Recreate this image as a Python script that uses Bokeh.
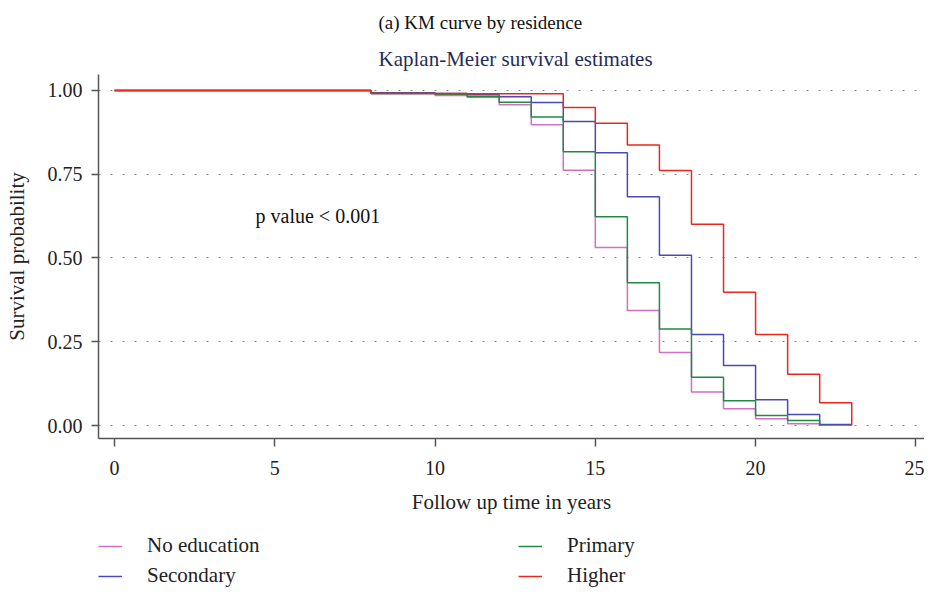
from bokeh.plotting import figure
from bokeh.layouts import column
from bokeh.models import FixedTicker, Label, Legend, LegendItem, Range1d, NumeralTickFormatter, Title
from bokeh.embed import file_html
from bokeh.resources import INLINE

# ---- data ----
times = [0, 8, 10, 11, 12, 13, 14, 15, 16, 17, 18, 19, 20, 21, 22, 23]
no_education = [1.0, 0.991, 0.985, 0.980, 0.957, 0.898, 0.762, 0.531, 0.343, 0.218, 0.100, 0.050, 0.020, 0.005, 0.001, 0.001]
secondary = [1.0, 0.993, 0.991, 0.987, 0.981, 0.964, 0.907, 0.814, 0.683, 0.508, 0.272, 0.179, 0.077, 0.033, 0.003, 0.003]
primary_times = [0, 8, 10, 11, 12, 13, 14, 15, 16, 17, 18, 19, 20, 21, 22]
primary = [1.0, 0.991, 0.989, 0.982, 0.965, 0.921, 0.817, 0.623, 0.426, 0.288, 0.144, 0.074, 0.030, 0.015, 0.0]
higher = [1.0, 0.991, 0.991, 0.990, 0.990, 0.990, 0.949, 0.902, 0.837, 0.761, 0.601, 0.398, 0.272, 0.153, 0.068, 0.0]

series_names = ["No education", "Secondary", "Primary", "Higher"]
series_colors = ["#d36ec4", "#4a4ab4", "#1f8a44", "#e8281e"]

x_ticks = [0, 5, 10, 15, 20, 25]
y_ticks = [0.0, 0.25, 0.5, 0.75, 1.0]

FONT = "Liberation Serif"
W = 924

p = figure(width=W, height=518, output_backend="svg", toolbar_location=None,
           title="(a) KM curve by residence",
           x_range=Range1d(-0.5, 25.27), y_range=Range1d(-0.0387, 1.0476),
           min_border_left=98, min_border_right=0, min_border_top=73, min_border_bottom=80)
p.outline_line_color = None
p.background_fill_color = "white"
p.border_fill_color = "white"

# titles (p.title is the outermost one)
p.title.align = "left"
p.title.offset = 280
p.title.standoff = 18
p.title.text_line_height = 0.8
p.title.text_font = FONT
p.title.text_font_size = "19px"
p.title.text_font_style = "normal"
p.title.text_color = "#111111"
p.add_layout(Title(text="Kaplan-Meier survival estimates", align="left", offset=280, standoff=7,
                   text_line_height=0.9,
                   text_font=FONT, text_font_size="21px", text_font_style="normal",
                   text_color="#1f2d5c"), "above")

# grids
p.xgrid.grid_line_color = None
p.ygrid.grid_line_color = "#8a8a8a"
p.ygrid.grid_line_dash = "2 10"
p.ygrid.grid_line_width = 1.2
p.ygrid.ticker = FixedTicker(ticks=y_ticks)

# axes
for ax in (p.xaxis[0], p.yaxis[0]):
    ax.axis_line_color = "#555555"
    ax.axis_line_width = 1.5
    ax.major_tick_line_color = "#555555"
    ax.major_tick_line_width = 1.5
    ax.minor_tick_line_color = None
    ax.major_tick_in = 0
    ax.major_tick_out = 8
    ax.major_label_text_font = FONT
    ax.major_label_text_font_size = "20px"
    ax.major_label_text_color = "#222222"
    ax.axis_label_text_font = FONT
    ax.axis_label_text_font_size = "21px"
    ax.axis_label_text_font_style = "normal"
    ax.axis_label_text_color = "#222222"

p.xaxis.ticker = FixedTicker(ticks=x_ticks)
p.yaxis.ticker = FixedTicker(ticks=y_ticks)
p.yaxis.formatter = NumeralTickFormatter(format="0.00")
p.yaxis.major_tick_out = 7
p.yaxis.major_label_standoff = 9
p.xaxis.major_label_standoff = 14
p.xaxis.axis_label = "Follow up time in years"
p.yaxis.axis_label = "Survival probability"
p.xaxis.axis_label_standoff = 12
p.yaxis.axis_label_standoff = 16

# curves
curves = [(times, no_education), (times, secondary), (primary_times, primary), (times, higher)]
for (tx, sy), c in zip(curves, series_colors):
    p.step(tx, sy, mode="after", line_color=c, line_width=1.5)

# annotation inside the plot
p.add_layout(Label(x=4.40, y=0.625, text="p value < 0.001", text_align="left",
                   text_baseline="middle", text_font=FONT, text_font_size="20px", text_color="#111111"))

# legend panel (separate, axis-less figure below the chart; its frame aligns with the chart's)
lg = figure(width=W, height=70, output_backend="svg", toolbar_location=None,
            x_axis_type=None, y_axis_type=None, x_range=Range1d(-0.5, 25.27), y_range=Range1d(10, 11),
            min_border=0)
lg.outline_line_color = None
lg.xgrid.grid_line_color = None
lg.ygrid.grid_line_color = None
items = []
for name, (tx, sy), c in zip(series_names, curves, series_colors):
    # same series, drawn outside the visible range of this panel: only the legend key shows
    r = lg.line(tx, sy, line_color=c, line_width=1.5)
    items.append(LegendItem(label=name, renderers=[r]))

legend = Legend(items=items, ncols=2, location=(0, 0), orientation="vertical")
legend.border_line_color = None
legend.background_fill_alpha = 0
legend.padding = 0
legend.margin = 0
legend.spacing = 5
legend.glyph_width = 24
legend.glyph_height = 20
legend.label_height = 20
legend.label_standoff = 25
legend.label_width = 366
legend.label_text_font = FONT
legend.label_text_font_size = "21px"
legend.label_text_color = "#222222"
lg.add_layout(legend, "center")

layout = column(p, lg, spacing=0)
open("out.html", "w").write(file_html(layout, INLINE))
